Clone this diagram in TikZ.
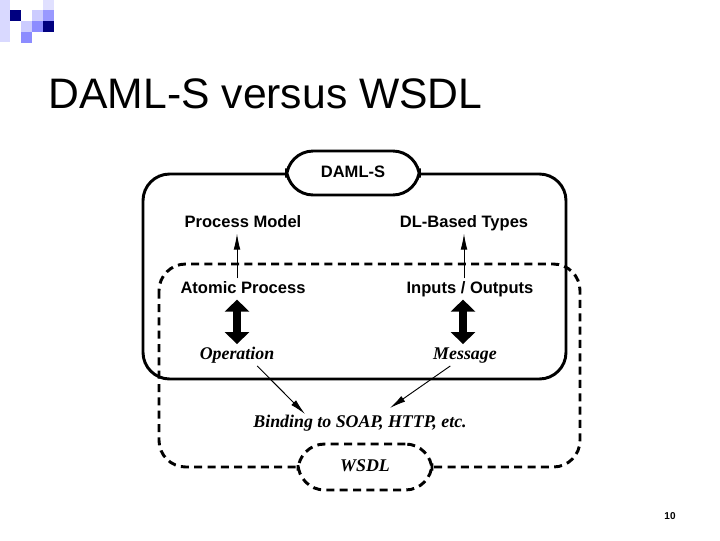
\documentclass[tikz,border=0pt]{standalone}
\usepackage{fontspec}
\setmainfont{Liberation Sans}
\newfontfamily\serifit{Liberation Serif}
\usetikzlibrary{arrows.meta}
\begin{document}
\begin{tikzpicture}[x=0.75pt,y=-0.75pt,
  lab/.style={font=\fontsize{12.4}{14}\selectfont\bfseries,text height=9pt,text depth=2.5pt,inner sep=2pt},
  ilab/.style={font=\fontsize{13.4}{15}\serifit\bfseries\itshape,text height=9pt,text depth=3pt,inner sep=2pt},
  thin/.style={-{Latex[length=12pt,width=5pt]},line width=0.7pt},
  fat/.style={{Triangle[length=9pt,width=18pt]}-{Triangle[length=9pt,width=18pt]},line width=6pt},
  dsh/.style={line width=2.2pt,dash pattern=on 6pt off 4pt}]
\useasboundingbox (0,0) rectangle (720,540);
% decoration
\fill[blue!15] (0,0) rectangle (10,42);
\fill[blue!12] (43,0) rectangle (54,11);
\fill[blue!50!black] (10,10) rectangle (21,21);
\fill[blue!20] (32,10) rectangle (43,21);
\fill[blue!40] (43,10) rectangle (54,21);
\fill[blue!20] (21,21) rectangle (32,32);
\fill[blue!45] (32,21) rectangle (43,32);
\fill[blue!50!black] (43,21) rectangle (54,32);
\fill[blue!45] (21,32) rectangle (32,43);
\node[anchor=base west,font=\fontsize{32}{36}\selectfont] (title) at (44,108) {DAML-S versus WSDL};
% boxes
\draw[line width=2.2pt,rounded corners=20] (143,174) rectangle (566,379);
\draw[dsh,rounded corners=20] (159,264) rectangle (580,467);
\node[draw,line width=2.2pt,fill=white,rounded corners=20,minimum width=133*0.75pt,minimum height=44*0.75pt,lab] (daml) at (353,173) {DAML-S};
\node[draw,dsh,fill=white,rounded corners=20,minimum width=134*0.75pt,minimum height=46*0.75pt,ilab] (wsdl) at (365,467) {WSDL};
% texts
\node[lab] (pm) at (243,223) {Process Model};
\node[lab] (dl) at (464,223) {DL-Based Types};
\node[lab] (ap) at (243,289) {Atomic Process};
\node[lab] (io) at (470,289) {Inputs / Outputs};
\node[ilab] (op) at (237,355) {Operation};
\node[ilab] (ms) at (465,355) {Message};
\node[ilab] (bi) at (360,423) {Binding to SOAP, HTTP, etc.};
% arrows
\draw[thin] (ap.north -| 237,0) -- (pm.south -| 237,0);
\draw[thin] (io.north -| 464,0) -- (dl.south -| 464,0);
\draw[fat] (ap.south -| 237,0) -- (op.north -| 237,0);
\draw[fat] (io.south -| 463,0) -- (ms.north -| 463,0);
\draw[thin] (op.south east) ++(-20,0) -- (305,414);
\draw[thin] (ms.south west) ++(20,0) -- (390,408);
\node[font=\fontsize{7.5}{9}\selectfont\bfseries] (pg) at (670,516) {10};
\end{tikzpicture}
\end{document}
